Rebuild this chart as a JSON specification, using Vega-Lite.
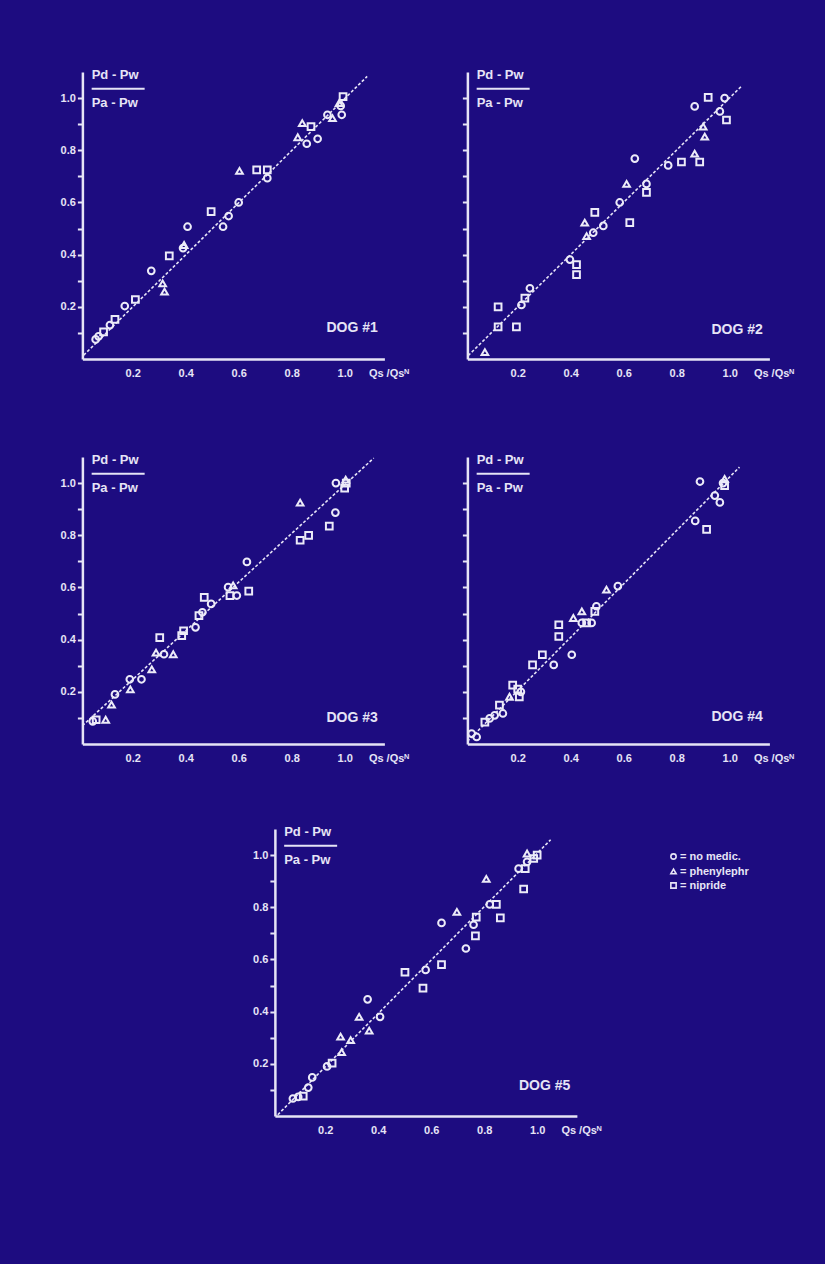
{
  "$schema": "https://vega.github.io/schema/vega-lite/v6.json",
  "background": "#1d0c80",
  "padding": {"left": 60, "top": 68, "right": 31, "bottom": 129},
  "config": {
    "view": {"stroke": null},
    "font": "Liberation Sans",
    "axis": {
      "domainColor": "#e6e4f6", "domainWidth": 2.5, "grid": false,
      "labelColor": "#e6e4f6", "labelFont": "Liberation Sans", "labelFontWeight": "bold", "labelFontSize": 11,
      "tickColor": "#e6e4f6", "tickWidth": 2,
      "titleColor": "#e6e4f6", "titleFont": "Liberation Sans", "titleFontWeight": "bold", "titleFontSize": 11
    }
  },
  "datasets": {
    "pts": [
      {"dog": 1, "x": 0.06, "y": 0.075, "med": "no medic."},
      {"dog": 1, "x": 0.071, "y": 0.087, "med": "no medic."},
      {"dog": 1, "x": 0.09, "y": 0.104, "med": "nipride"},
      {"dog": 1, "x": 0.114, "y": 0.13, "med": "no medic."},
      {"dog": 1, "x": 0.133, "y": 0.152, "med": "nipride"},
      {"dog": 1, "x": 0.17, "y": 0.203, "med": "no medic."},
      {"dog": 1, "x": 0.21, "y": 0.228, "med": "nipride"},
      {"dog": 1, "x": 0.27, "y": 0.338, "med": "no medic."},
      {"dog": 1, "x": 0.313, "y": 0.29, "med": "phenylephr"},
      {"dog": 1, "x": 0.32, "y": 0.258, "med": "phenylephr"},
      {"dog": 1, "x": 0.338, "y": 0.395, "med": "nipride"},
      {"dog": 1, "x": 0.394, "y": 0.437, "med": "phenylephr"},
      {"dog": 1, "x": 0.39, "y": 0.425, "med": "no medic."},
      {"dog": 1, "x": 0.407, "y": 0.507, "med": "no medic."},
      {"dog": 1, "x": 0.496, "y": 0.565, "med": "nipride"},
      {"dog": 1, "x": 0.541, "y": 0.507, "med": "no medic."},
      {"dog": 1, "x": 0.562, "y": 0.548, "med": "no medic."},
      {"dog": 1, "x": 0.6, "y": 0.6, "med": "no medic."},
      {"dog": 1, "x": 0.603, "y": 0.721, "med": "phenylephr"},
      {"dog": 1, "x": 0.668, "y": 0.725, "med": "nipride"},
      {"dog": 1, "x": 0.708, "y": 0.725, "med": "nipride"},
      {"dog": 1, "x": 0.708, "y": 0.693, "med": "no medic."},
      {"dog": 1, "x": 0.84, "y": 0.904, "med": "phenylephr"},
      {"dog": 1, "x": 0.823, "y": 0.85, "med": "phenylephr"},
      {"dog": 1, "x": 0.857, "y": 0.825, "med": "no medic."},
      {"dog": 1, "x": 0.873, "y": 0.891, "med": "nipride"},
      {"dog": 1, "x": 0.898, "y": 0.844, "med": "no medic."},
      {"dog": 1, "x": 0.935, "y": 0.936, "med": "no medic."},
      {"dog": 1, "x": 0.954, "y": 0.923, "med": "phenylephr"},
      {"dog": 1, "x": 0.989, "y": 0.936, "med": "no medic."},
      {"dog": 1, "x": 0.979, "y": 0.981, "med": "phenylephr"},
      {"dog": 1, "x": 0.994, "y": 1.006, "med": "nipride"},
      {"dog": 1, "x": 0.985, "y": 0.97, "med": "no medic."},

      {"dog": 2, "x": 0.076, "y": 0.026, "med": "phenylephr"},
      {"dog": 2, "x": 0.126, "y": 0.123, "med": "nipride"},
      {"dog": 2, "x": 0.126, "y": 0.2, "med": "nipride"},
      {"dog": 2, "x": 0.195, "y": 0.123, "med": "nipride"},
      {"dog": 2, "x": 0.214, "y": 0.207, "med": "no medic."},
      {"dog": 2, "x": 0.227, "y": 0.233, "med": "nipride"},
      {"dog": 2, "x": 0.246, "y": 0.271, "med": "no medic."},
      {"dog": 2, "x": 0.397, "y": 0.381, "med": "no medic."},
      {"dog": 2, "x": 0.422, "y": 0.362, "med": "nipride"},
      {"dog": 2, "x": 0.422, "y": 0.323, "med": "nipride"},
      {"dog": 2, "x": 0.453, "y": 0.523, "med": "phenylephr"},
      {"dog": 2, "x": 0.46, "y": 0.471, "med": "phenylephr"},
      {"dog": 2, "x": 0.485, "y": 0.484, "med": "no medic."},
      {"dog": 2, "x": 0.491, "y": 0.562, "med": "nipride"},
      {"dog": 2, "x": 0.523, "y": 0.51, "med": "no medic."},
      {"dog": 2, "x": 0.585, "y": 0.6, "med": "no medic."},
      {"dog": 2, "x": 0.611, "y": 0.671, "med": "phenylephr"},
      {"dog": 2, "x": 0.623, "y": 0.523, "med": "nipride"},
      {"dog": 2, "x": 0.642, "y": 0.768, "med": "no medic."},
      {"dog": 2, "x": 0.686, "y": 0.671, "med": "no medic."},
      {"dog": 2, "x": 0.686, "y": 0.639, "med": "nipride"},
      {"dog": 2, "x": 0.768, "y": 0.742, "med": "no medic."},
      {"dog": 2, "x": 0.818, "y": 0.755, "med": "nipride"},
      {"dog": 2, "x": 0.868, "y": 0.787, "med": "phenylephr"},
      {"dog": 2, "x": 0.887, "y": 0.755, "med": "nipride"},
      {"dog": 2, "x": 0.868, "y": 0.968, "med": "no medic."},
      {"dog": 2, "x": 0.919, "y": 1.003, "med": "nipride"},
      {"dog": 2, "x": 0.9, "y": 0.891, "med": "phenylephr"},
      {"dog": 2, "x": 0.906, "y": 0.852, "med": "phenylephr"},
      {"dog": 2, "x": 0.981, "y": 1.0, "med": "no medic."},
      {"dog": 2, "x": 0.963, "y": 0.949, "med": "no medic."},
      {"dog": 2, "x": 0.988, "y": 0.916, "med": "nipride"},

      {"dog": 3, "x": 0.062, "y": 0.093, "med": "nipride"},
      {"dog": 3, "x": 0.049, "y": 0.087, "med": "no medic."},
      {"dog": 3, "x": 0.098, "y": 0.093, "med": "phenylephr"},
      {"dog": 3, "x": 0.12, "y": 0.151, "med": "phenylephr"},
      {"dog": 3, "x": 0.133, "y": 0.19, "med": "no medic."},
      {"dog": 3, "x": 0.191, "y": 0.209, "med": "phenylephr"},
      {"dog": 3, "x": 0.189, "y": 0.248, "med": "no medic."},
      {"dog": 3, "x": 0.233, "y": 0.248, "med": "no medic."},
      {"dog": 3, "x": 0.272, "y": 0.286, "med": "phenylephr"},
      {"dog": 3, "x": 0.288, "y": 0.35, "med": "phenylephr"},
      {"dog": 3, "x": 0.302, "y": 0.408, "med": "nipride"},
      {"dog": 3, "x": 0.318, "y": 0.344, "med": "no medic."},
      {"dog": 3, "x": 0.353, "y": 0.344, "med": "phenylephr"},
      {"dog": 3, "x": 0.385, "y": 0.415, "med": "nipride"},
      {"dog": 3, "x": 0.392, "y": 0.434, "med": "nipride"},
      {"dog": 3, "x": 0.437, "y": 0.447, "med": "no medic."},
      {"dog": 3, "x": 0.45, "y": 0.492, "med": "nipride"},
      {"dog": 3, "x": 0.463, "y": 0.505, "med": "no medic."},
      {"dog": 3, "x": 0.47, "y": 0.562, "med": "nipride"},
      {"dog": 3, "x": 0.496, "y": 0.537, "med": "no medic."},
      {"dog": 3, "x": 0.56, "y": 0.601, "med": "no medic."},
      {"dog": 3, "x": 0.579, "y": 0.608, "med": "phenylephr"},
      {"dog": 3, "x": 0.567, "y": 0.569, "med": "nipride"},
      {"dog": 3, "x": 0.593, "y": 0.569, "med": "no medic."},
      {"dog": 3, "x": 0.638, "y": 0.586, "med": "nipride"},
      {"dog": 3, "x": 0.631, "y": 0.698, "med": "no medic."},
      {"dog": 3, "x": 0.832, "y": 0.925, "med": "phenylephr"},
      {"dog": 3, "x": 0.832, "y": 0.781, "med": "nipride"},
      {"dog": 3, "x": 0.864, "y": 0.8, "med": "nipride"},
      {"dog": 3, "x": 0.942, "y": 0.835, "med": "nipride"},
      {"dog": 3, "x": 0.965, "y": 0.887, "med": "no medic."},
      {"dog": 3, "x": 0.967, "y": 1.0, "med": "no medic."},
      {"dog": 3, "x": 1.006, "y": 1.0, "med": "nipride"},
      {"dog": 3, "x": 1.004, "y": 1.013, "med": "phenylephr"},
      {"dog": 3, "x": 1.0, "y": 0.981, "med": "nipride"},

      {"dog": 4, "x": 0.026, "y": 0.04, "med": "no medic."},
      {"dog": 4, "x": 0.045, "y": 0.027, "med": "no medic."},
      {"dog": 4, "x": 0.076, "y": 0.084, "med": "nipride"},
      {"dog": 4, "x": 0.094, "y": 0.098, "med": "no medic."},
      {"dog": 4, "x": 0.113, "y": 0.11, "med": "no medic."},
      {"dog": 4, "x": 0.131, "y": 0.149, "med": "nipride"},
      {"dog": 4, "x": 0.144, "y": 0.117, "med": "no medic."},
      {"dog": 4, "x": 0.169, "y": 0.181, "med": "phenylephr"},
      {"dog": 4, "x": 0.181, "y": 0.226, "med": "nipride"},
      {"dog": 4, "x": 0.206, "y": 0.181, "med": "nipride"},
      {"dog": 4, "x": 0.212, "y": 0.2, "med": "no medic."},
      {"dog": 4, "x": 0.2, "y": 0.21, "med": "nipride"},
      {"dog": 4, "x": 0.256, "y": 0.303, "med": "nipride"},
      {"dog": 4, "x": 0.293, "y": 0.342, "med": "nipride"},
      {"dog": 4, "x": 0.336, "y": 0.303, "med": "no medic."},
      {"dog": 4, "x": 0.355, "y": 0.412, "med": "nipride"},
      {"dog": 4, "x": 0.355, "y": 0.457, "med": "nipride"},
      {"dog": 4, "x": 0.404, "y": 0.342, "med": "no medic."},
      {"dog": 4, "x": 0.41, "y": 0.483, "med": "phenylephr"},
      {"dog": 4, "x": 0.442, "y": 0.508, "med": "phenylephr"},
      {"dog": 4, "x": 0.442, "y": 0.464, "med": "no medic."},
      {"dog": 4, "x": 0.46, "y": 0.464, "med": "nipride"},
      {"dog": 4, "x": 0.479, "y": 0.464, "med": "no medic."},
      {"dog": 4, "x": 0.491, "y": 0.508, "med": "nipride"},
      {"dog": 4, "x": 0.497, "y": 0.528, "med": "no medic."},
      {"dog": 4, "x": 0.535, "y": 0.592, "med": "phenylephr"},
      {"dog": 4, "x": 0.578, "y": 0.605, "med": "no medic."},
      {"dog": 4, "x": 0.87, "y": 0.855, "med": "no medic."},
      {"dog": 4, "x": 0.913, "y": 0.823, "med": "nipride"},
      {"dog": 4, "x": 0.888, "y": 1.006, "med": "no medic."},
      {"dog": 4, "x": 0.944, "y": 0.952, "med": "no medic."},
      {"dog": 4, "x": 0.963, "y": 0.926, "med": "no medic."},
      {"dog": 4, "x": 0.981, "y": 1.016, "med": "phenylephr"},
      {"dog": 4, "x": 0.981, "y": 0.99, "med": "nipride"},
      {"dog": 4, "x": 0.975, "y": 1.0, "med": "no medic."},

      {"dog": 5, "x": 0.078, "y": 0.067, "med": "no medic."},
      {"dog": 5, "x": 0.098, "y": 0.073, "med": "no medic."},
      {"dog": 5, "x": 0.117, "y": 0.076, "med": "nipride"},
      {"dog": 5, "x": 0.136, "y": 0.109, "med": "no medic."},
      {"dog": 5, "x": 0.151, "y": 0.148, "med": "no medic."},
      {"dog": 5, "x": 0.207, "y": 0.19, "med": "no medic."},
      {"dog": 5, "x": 0.226, "y": 0.203, "med": "nipride"},
      {"dog": 5, "x": 0.262, "y": 0.245, "med": "phenylephr"},
      {"dog": 5, "x": 0.258, "y": 0.304, "med": "phenylephr"},
      {"dog": 5, "x": 0.296, "y": 0.291, "med": "phenylephr"},
      {"dog": 5, "x": 0.328, "y": 0.38, "med": "phenylephr"},
      {"dog": 5, "x": 0.36, "y": 0.447, "med": "no medic."},
      {"dog": 5, "x": 0.366, "y": 0.327, "med": "phenylephr"},
      {"dog": 5, "x": 0.407, "y": 0.38, "med": "no medic."},
      {"dog": 5, "x": 0.501, "y": 0.551, "med": "nipride"},
      {"dog": 5, "x": 0.569, "y": 0.49, "med": "nipride"},
      {"dog": 5, "x": 0.579, "y": 0.56, "med": "no medic."},
      {"dog": 5, "x": 0.639, "y": 0.58, "med": "nipride"},
      {"dog": 5, "x": 0.639, "y": 0.74, "med": "no medic."},
      {"dog": 5, "x": 0.697, "y": 0.782, "med": "phenylephr"},
      {"dog": 5, "x": 0.731, "y": 0.642, "med": "no medic."},
      {"dog": 5, "x": 0.767, "y": 0.69, "med": "nipride"},
      {"dog": 5, "x": 0.76, "y": 0.733, "med": "no medic."},
      {"dog": 5, "x": 0.77, "y": 0.762, "med": "nipride"},
      {"dog": 5, "x": 0.821, "y": 0.811, "med": "no medic."},
      {"dog": 5, "x": 0.846, "y": 0.811, "med": "nipride"},
      {"dog": 5, "x": 0.861, "y": 0.759, "med": "nipride"},
      {"dog": 5, "x": 0.808, "y": 0.909, "med": "phenylephr"},
      {"dog": 5, "x": 0.949, "y": 0.87, "med": "nipride"},
      {"dog": 5, "x": 0.93, "y": 0.948, "med": "no medic."},
      {"dog": 5, "x": 0.955, "y": 0.948, "med": "nipride"},
      {"dog": 5, "x": 0.962, "y": 0.974, "med": "no medic."},
      {"dog": 5, "x": 0.962, "y": 1.006, "med": "phenylephr"},
      {"dog": 5, "x": 1.0, "y": 1.0, "med": "nipride"},
      {"dog": 5, "x": 0.987, "y": 0.987, "med": "nipride"}
    ],
    "fits": [
      {"dog": 1, "x": 0.015, "y": 0.015, "x2": 1.085, "y2": 1.083},
      {"dog": 2, "x": 0.013, "y": 0.013, "x2": 1.045, "y2": 1.046},
      {"dog": 3, "x": 0.01, "y": 0.07, "x2": 1.11, "y2": 1.096},
      {"dog": 4, "x": 0.01, "y": 0.01, "x2": 1.037, "y2": 1.061},
      {"dog": 5, "x": 0.021, "y": 0.005, "x2": 1.051, "y2": 1.059}
    ],
    "frac": [
      {"x": 0.045, "y": 1.089, "t": "Pd - Pw"},
      {"x": 0.045, "y": 0.982, "t": "Pa - Pw"}
    ],
    "fracbar": [
      {"x": 0.045, "x2": 0.245, "y": 1.036}
    ],
    "dogs": [
      {"dog": 1, "x": 1.125, "y": 0.118, "t": "DOG #1"},
      {"dog": 2, "x": 1.125, "y": 0.11, "t": "DOG #2"},
      {"dog": 3, "x": 1.125, "y": 0.1, "t": "DOG #3"},
      {"dog": 4, "x": 1.125, "y": 0.104, "t": "DOG #4"},
      {"dog": 5, "x": 1.125, "y": 0.115, "t": "DOG #5"}
    ]
  },
  "vconcat": [
    {
      "vconcat": [
        {
          "hconcat": [
            {
              "width": 302, "height": 287,
              "encoding": {
                "x": {"field": "x", "type": "quantitative", "scale": {"domain": [0.01, 1.15]},
                  "axis": {"values": [0.2, 0.4, 0.6, 0.8, 1.0], "format": ".1f", "ticks": false, "tickSize": 0, "labelPadding": 8, "title": "Qs /Qsᴺ", "titleAlign": "left", "titleAnchor": "start", "titleBaseline": "top", "titleX": 286, "titleY": 8}},
                "y": {"field": "y", "type": "quantitative", "scale": {"domain": [0, 1.1]},
                  "axis": {"values": [0.1, 0.2, 0.3, 0.4, 0.5, 0.6, 0.7, 0.8, 0.9, 1.0], "tickSize": 5, "labelPadding": 2, "labelExpr": "round(datum.value*10)%2==0 ? format(datum.value,'.1f') : ''", "title": null}}
              },
              "layer": [
                {"data": {"name": "fits"}, "transform": [{"filter": "datum.dog == 1"}], "mark": {"type": "rule", "color": "#e6e4f6", "strokeWidth": 1.6, "strokeDash": [3, 2]}, "encoding": {"x2": {"field": "x2"}, "y2": {"field": "y2"}}},
                {"data": {"name": "pts"}, "transform": [{"filter": "datum.dog == 1"}], "mark": {"type": "point", "filled": false, "color": "#ecebf8", "strokeWidth": 2, "size": 45, "opacity": 1},
                  "encoding": {"shape": {"field": "med", "type": "nominal", "scale": {"domain": ["no medic.", "phenylephr", "nipride"], "range": ["circle", "triangle-up", "square"]},
                    "legend": {"orient": "none", "legendX": 586, "legendY": 779, "title": null, "symbolStrokeColor": "#e6e4f6", "symbolFillColor": "transparent", "symbolStrokeWidth": 1.6, "symbolSize": 28, "labelColor": "#e6e4f6", "labelFont": "Liberation Sans", "labelFontWeight": "bold", "labelFontSize": 11, "labelExpr": "'= ' + datum.label", "rowPadding": 2, "labelOffset": 1}}}},
                {"data": {"name": "frac"}, "mark": {"type": "text", "align": "left", "baseline": "middle", "color": "#e6e4f6", "font": "Liberation Sans", "fontWeight": "bold", "fontSize": 13}, "encoding": {"text": {"field": "t"}}},
                {"data": {"name": "fracbar"}, "mark": {"type": "rule", "color": "#e6e4f6", "strokeWidth": 2}, "encoding": {"x2": {"field": "x2"}}},
                {"data": {"name": "dogs"}, "transform": [{"filter": "datum.dog == 1"}], "mark": {"type": "text", "align": "right", "baseline": "middle", "color": "#e6e4f6", "font": "Liberation Sans", "fontWeight": "bold", "fontSize": 14}, "encoding": {"text": {"field": "t"}}}
              ]
            },
            {
              "width": 302, "height": 287,
              "encoding": {
                "x": {"field": "x", "type": "quantitative", "scale": {"domain": [0.01, 1.15]},
                  "axis": {"values": [0.2, 0.4, 0.6, 0.8, 1.0], "format": ".1f", "ticks": false, "tickSize": 0, "labelPadding": 8, "title": "Qs /Qsᴺ", "titleAlign": "left", "titleAnchor": "start", "titleBaseline": "top", "titleX": 286, "titleY": 8}},
                "y": {"field": "y", "type": "quantitative", "scale": {"domain": [0, 1.1]},
                  "axis": {"values": [0.1, 0.2, 0.3, 0.4, 0.5, 0.6, 0.7, 0.8, 0.9, 1.0], "tickSize": 5, "labels": false, "title": null}}
              },
              "layer": [
                {"data": {"name": "fits"}, "transform": [{"filter": "datum.dog == 2"}], "mark": {"type": "rule", "color": "#e6e4f6", "strokeWidth": 1.6, "strokeDash": [3, 2]}, "encoding": {"x2": {"field": "x2"}, "y2": {"field": "y2"}}},
                {"data": {"name": "pts"}, "transform": [{"filter": "datum.dog == 2"}], "mark": {"type": "point", "filled": false, "color": "#ecebf8", "strokeWidth": 2, "size": 45, "opacity": 1},
                  "encoding": {"shape": {"field": "med", "type": "nominal", "scale": {"domain": ["no medic.", "phenylephr", "nipride"], "range": ["circle", "triangle-up", "square"]},
                    "legend": {"orient": "none", "legendX": 586, "legendY": 779, "title": null, "symbolStrokeColor": "#e6e4f6", "symbolFillColor": "transparent", "symbolStrokeWidth": 1.6, "symbolSize": 28, "labelColor": "#e6e4f6", "labelFont": "Liberation Sans", "labelFontWeight": "bold", "labelFontSize": 11, "labelExpr": "'= ' + datum.label", "rowPadding": 2, "labelOffset": 1}}}},
                {"data": {"name": "frac"}, "mark": {"type": "text", "align": "left", "baseline": "middle", "color": "#e6e4f6", "font": "Liberation Sans", "fontWeight": "bold", "fontSize": 13}, "encoding": {"text": {"field": "t"}}},
                {"data": {"name": "fracbar"}, "mark": {"type": "rule", "color": "#e6e4f6", "strokeWidth": 2}, "encoding": {"x2": {"field": "x2"}}},
                {"data": {"name": "dogs"}, "transform": [{"filter": "datum.dog == 2"}], "mark": {"type": "text", "align": "right", "baseline": "middle", "color": "#e6e4f6", "font": "Liberation Sans", "fontWeight": "bold", "fontSize": 14}, "encoding": {"text": {"field": "t"}}}
              ]
            }
          ],
          "spacing": 52
        },
        {
          "hconcat": [
            {
              "width": 302, "height": 287,
              "encoding": {
                "x": {"field": "x", "type": "quantitative", "scale": {"domain": [0.01, 1.15]},
                  "axis": {"values": [0.2, 0.4, 0.6, 0.8, 1.0], "format": ".1f", "ticks": false, "tickSize": 0, "labelPadding": 8, "title": "Qs /Qsᴺ", "titleAlign": "left", "titleAnchor": "start", "titleBaseline": "top", "titleX": 286, "titleY": 8}},
                "y": {"field": "y", "type": "quantitative", "scale": {"domain": [0, 1.1]},
                  "axis": {"values": [0.1, 0.2, 0.3, 0.4, 0.5, 0.6, 0.7, 0.8, 0.9, 1.0], "tickSize": 5, "labelPadding": 2, "labelExpr": "round(datum.value*10)%2==0 ? format(datum.value,'.1f') : ''", "title": null}}
              },
              "layer": [
                {"data": {"name": "fits"}, "transform": [{"filter": "datum.dog == 3"}], "mark": {"type": "rule", "color": "#e6e4f6", "strokeWidth": 1.6, "strokeDash": [3, 2]}, "encoding": {"x2": {"field": "x2"}, "y2": {"field": "y2"}}},
                {"data": {"name": "pts"}, "transform": [{"filter": "datum.dog == 3"}], "mark": {"type": "point", "filled": false, "color": "#ecebf8", "strokeWidth": 2, "size": 45, "opacity": 1},
                  "encoding": {"shape": {"field": "med", "type": "nominal", "scale": {"domain": ["no medic.", "phenylephr", "nipride"], "range": ["circle", "triangle-up", "square"]},
                    "legend": {"orient": "none", "legendX": 586, "legendY": 779, "title": null, "symbolStrokeColor": "#e6e4f6", "symbolFillColor": "transparent", "symbolStrokeWidth": 1.6, "symbolSize": 28, "labelColor": "#e6e4f6", "labelFont": "Liberation Sans", "labelFontWeight": "bold", "labelFontSize": 11, "labelExpr": "'= ' + datum.label", "rowPadding": 2, "labelOffset": 1}}}},
                {"data": {"name": "frac"}, "mark": {"type": "text", "align": "left", "baseline": "middle", "color": "#e6e4f6", "font": "Liberation Sans", "fontWeight": "bold", "fontSize": 13}, "encoding": {"text": {"field": "t"}}},
                {"data": {"name": "fracbar"}, "mark": {"type": "rule", "color": "#e6e4f6", "strokeWidth": 2}, "encoding": {"x2": {"field": "x2"}}},
                {"data": {"name": "dogs"}, "transform": [{"filter": "datum.dog == 3"}], "mark": {"type": "text", "align": "right", "baseline": "middle", "color": "#e6e4f6", "font": "Liberation Sans", "fontWeight": "bold", "fontSize": 14}, "encoding": {"text": {"field": "t"}}}
              ]
            },
            {
              "width": 302, "height": 287,
              "encoding": {
                "x": {"field": "x", "type": "quantitative", "scale": {"domain": [0.01, 1.15]},
                  "axis": {"values": [0.2, 0.4, 0.6, 0.8, 1.0], "format": ".1f", "ticks": false, "tickSize": 0, "labelPadding": 8, "title": "Qs /Qsᴺ", "titleAlign": "left", "titleAnchor": "start", "titleBaseline": "top", "titleX": 286, "titleY": 8}},
                "y": {"field": "y", "type": "quantitative", "scale": {"domain": [0, 1.1]},
                  "axis": {"values": [0.1, 0.2, 0.3, 0.4, 0.5, 0.6, 0.7, 0.8, 0.9, 1.0], "tickSize": 5, "labels": false, "title": null}}
              },
              "layer": [
                {"data": {"name": "fits"}, "transform": [{"filter": "datum.dog == 4"}], "mark": {"type": "rule", "color": "#e6e4f6", "strokeWidth": 1.6, "strokeDash": [3, 2]}, "encoding": {"x2": {"field": "x2"}, "y2": {"field": "y2"}}},
                {"data": {"name": "pts"}, "transform": [{"filter": "datum.dog == 4"}], "mark": {"type": "point", "filled": false, "color": "#ecebf8", "strokeWidth": 2, "size": 45, "opacity": 1},
                  "encoding": {"shape": {"field": "med", "type": "nominal", "scale": {"domain": ["no medic.", "phenylephr", "nipride"], "range": ["circle", "triangle-up", "square"]},
                    "legend": {"orient": "none", "legendX": 586, "legendY": 779, "title": null, "symbolStrokeColor": "#e6e4f6", "symbolFillColor": "transparent", "symbolStrokeWidth": 1.6, "symbolSize": 28, "labelColor": "#e6e4f6", "labelFont": "Liberation Sans", "labelFontWeight": "bold", "labelFontSize": 11, "labelExpr": "'= ' + datum.label", "rowPadding": 2, "labelOffset": 1}}}},
                {"data": {"name": "frac"}, "mark": {"type": "text", "align": "left", "baseline": "middle", "color": "#e6e4f6", "font": "Liberation Sans", "fontWeight": "bold", "fontSize": 13}, "encoding": {"text": {"field": "t"}}},
                {"data": {"name": "fracbar"}, "mark": {"type": "rule", "color": "#e6e4f6", "strokeWidth": 2}, "encoding": {"x2": {"field": "x2"}}},
                {"data": {"name": "dogs"}, "transform": [{"filter": "datum.dog == 4"}], "mark": {"type": "text", "align": "right", "baseline": "middle", "color": "#e6e4f6", "font": "Liberation Sans", "fontWeight": "bold", "fontSize": 14}, "encoding": {"text": {"field": "t"}}}
              ]
            }
          ],
          "spacing": 52
        }
      ],
      "spacing": 75
    },
    {
      "width": 302, "height": 287,
      "encoding": {
        "x": {"field": "x", "type": "quantitative", "scale": {"domain": [0.01, 1.15]},
          "axis": {"values": [0.2, 0.4, 0.6, 0.8, 1.0], "format": ".1f", "ticks": false, "tickSize": 0, "labelPadding": 8, "title": "Qs /Qsᴺ", "titleAlign": "left", "titleAnchor": "start", "titleBaseline": "top", "titleX": 286, "titleY": 8}},
        "y": {"field": "y", "type": "quantitative", "scale": {"domain": [0, 1.1]},
          "axis": {"values": [0.1, 0.2, 0.3, 0.4, 0.5, 0.6, 0.7, 0.8, 0.9, 1.0], "tickSize": 5, "labelPadding": 2, "labelExpr": "round(datum.value*10)%2==0 ? format(datum.value,'.1f') : ''", "title": null}}
      },
      "layer": [
        {"data": {"name": "fits"}, "transform": [{"filter": "datum.dog == 5"}], "mark": {"type": "rule", "color": "#e6e4f6", "strokeWidth": 1.6, "strokeDash": [3, 2]}, "encoding": {"x2": {"field": "x2"}, "y2": {"field": "y2"}}},
        {"data": {"name": "pts"}, "transform": [{"filter": "datum.dog == 5"}], "mark": {"type": "point", "filled": false, "color": "#ecebf8", "strokeWidth": 2, "size": 45, "opacity": 1},
          "encoding": {"shape": {"field": "med", "type": "nominal", "scale": {"domain": ["no medic.", "phenylephr", "nipride"], "range": ["circle", "triangle-up", "square"]},
            "legend": {"orient": "none", "legendX": 586, "legendY": 779, "title": null, "symbolStrokeColor": "#e6e4f6", "symbolFillColor": "transparent", "symbolStrokeWidth": 1.6, "symbolSize": 28, "labelColor": "#e6e4f6", "labelFont": "Liberation Sans", "labelFontWeight": "bold", "labelFontSize": 11, "labelExpr": "'= ' + datum.label", "rowPadding": 2, "labelOffset": 1}}}},
        {"data": {"name": "frac"}, "mark": {"type": "text", "align": "left", "baseline": "middle", "color": "#e6e4f6", "font": "Liberation Sans", "fontWeight": "bold", "fontSize": 13}, "encoding": {"text": {"field": "t"}}},
        {"data": {"name": "fracbar"}, "mark": {"type": "rule", "color": "#e6e4f6", "strokeWidth": 2}, "encoding": {"x2": {"field": "x2"}}},
        {"data": {"name": "dogs"}, "transform": [{"filter": "datum.dog == 5"}], "mark": {"type": "text", "align": "right", "baseline": "middle", "color": "#e6e4f6", "font": "Liberation Sans", "fontWeight": "bold", "fontSize": 14}, "encoding": {"text": {"field": "t"}}}
      ]
    }
  ],
  "spacing": 62,
  "center": true
}
